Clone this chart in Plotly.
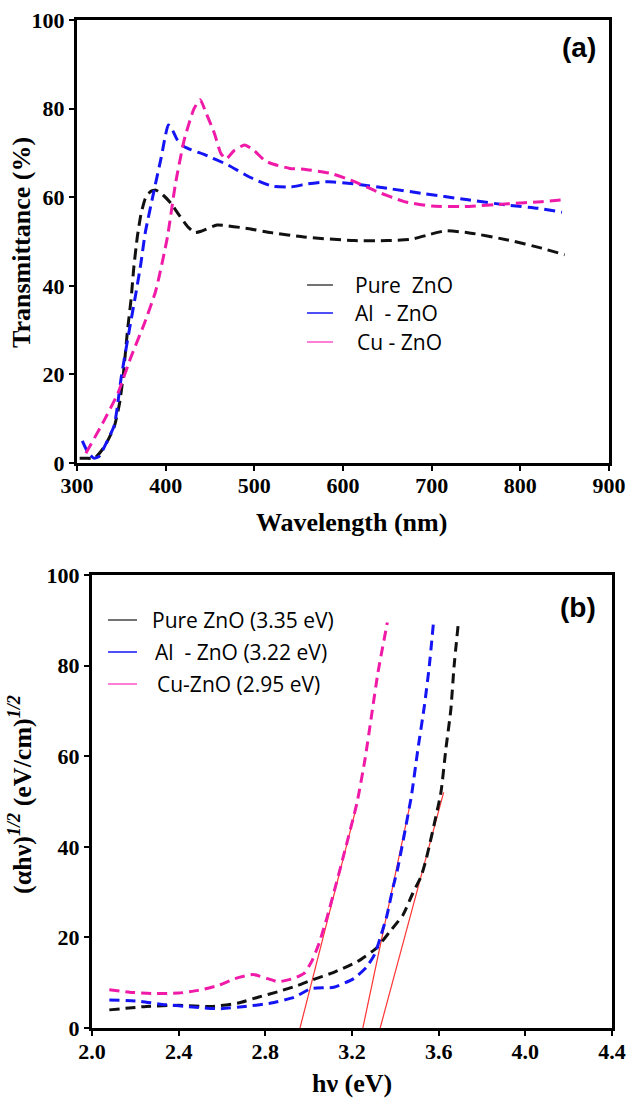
import plotly.graph_objects as go

# ---------------- Panel (a): transmittance ----------------
wl_pure = [303, 310, 320, 331, 342, 348, 352, 357, 361, 364, 368, 372, 377, 383, 389, 397, 406, 415, 425, 433,
           440, 458, 490, 519, 556, 613, 650, 677, 696, 715, 741, 787, 824, 850]
T_pure = [1.1, 1.1, 1.1, 3.7, 8.2, 13.5, 19.5, 30, 37, 44, 51, 56, 59.7, 61.3, 61.6, 60.5, 58.6, 56, 53.3, 52,
          52.3, 53.7, 53, 52, 51, 50.2, 50.2, 50.5, 51.5, 52.4, 52, 50.3, 48.5, 47]

wl_al = [306, 312, 319, 325, 331, 342, 350, 359, 367, 372, 377, 387, 395, 403, 408, 413, 421, 445, 470, 495,
         520, 541, 560, 583, 613, 650, 688, 741, 786, 820, 847]
T_al = [5, 2.5, 1.1, 1.5, 3.7, 8.5, 19.5, 30, 39, 45, 52, 61.6, 69, 76.3, 75, 73, 71.4, 69.5, 67.3, 64.5,
        62.5, 62.3, 63, 63.5, 63, 62, 60.9, 59.4, 58.2, 57.5, 56.6]

wl_cu = [310, 329, 346, 361, 376, 389, 402, 411, 421, 432, 439, 445, 455, 462, 468, 477, 489, 500, 511, 519,
         540, 556, 586, 613, 639, 669, 700, 737, 786, 824, 849]
T_cu = [2.2, 9, 15.7, 24, 31.5, 39, 51, 63, 73, 80, 82, 79.3, 74.4, 70, 68.6, 70.5, 71.8, 70.5, 68.4, 67.6,
        66.5, 66.3, 65.4, 63.5, 61.2, 59, 58, 57.9, 58.5, 59, 59.4]

# ---------------- Panel (b): Tauc plot ----------------
hv_pure = [2.08, 2.25, 2.40, 2.55, 2.675, 2.766, 2.858, 2.95, 3.01, 3.116, 3.223, 3.314, 3.375, 3.436, 3.481,
           3.519, 3.542, 3.61, 3.633, 3.656, 3.671, 3.691]
a_pure = [4.0, 4.75, 5.0, 4.75, 5.5, 6.8, 8.0, 9.4, 10.5, 12.3, 14.6, 17.7, 21.3, 25, 29.8,
          33.5, 37.2, 51.9, 61.5, 70.2, 79.8, 89.5]

hv_al = [2.08, 2.22, 2.325, 2.478, 2.584, 2.706, 2.827, 2.934, 3.01, 3.116, 3.208, 3.268, 3.306, 3.329, 3.36,
         3.39, 3.41, 3.474, 3.504, 3.534, 3.557, 3.576]
a_al = [6.2, 5.9, 5.2, 4.6, 4.25, 4.75, 5.5, 6.8, 8.7, 9.0, 10.9, 13.5, 16.4, 19.7, 24.6,
        31.2, 35, 51.2, 61.5, 71.1, 80, 89.5]

hv_cu = [2.08, 2.173, 2.28, 2.40, 2.49, 2.584, 2.66, 2.744, 2.81, 2.86, 2.934, 2.98, 3.017, 3.048, 3.086,
         3.124, 3.15, 3.223, 3.26, 3.29, 3.32, 3.363]
a_cu = [8.45, 7.9, 7.6, 7.7, 8.3, 9.4, 10.9, 11.8, 10.9, 10.2, 11, 12.1, 15, 18.7, 24.6,
        31.3, 36, 49.7, 59.3, 68.9, 78.5, 89.5]

# linear extrapolation lines (band-gap intercepts)
fit_pure_x = [3.33, 3.623]
fit_pure_y = [0, 52]
fit_al_x = [3.25, 3.47]
fit_al_y = [0, 49.8]
fit_cu_x = [2.96, 3.223]
fit_cu_y = [0, 49.3]

legend_a = ["Pure  ZnO", "Al  - ZnO", "Cu - ZnO"]
legend_b = ["Pure ZnO (3.35 eV)", "Al  - ZnO (3.22 eV)", "Cu-ZnO (2.95 eV)"]

ticks_a_x = [300, 400, 500, 600, 700, 800, 900]
ticks_a_y = [0, 20, 40, 60, 80, 100]
ticks_b_x = [2.0, 2.4, 2.8, 3.2, 3.6, 4.0, 4.4]
ticks_b_y = [0, 20, 40, 60, 80, 100]

BLACK = "#111111"
BLUE = "#1414f5"
PINK = "#f01aa8"
RED = "#ff3333"
W, H = 630, 1104

fig = go.Figure()
for x, y, c in [(wl_pure, T_pure, BLACK), (wl_al, T_al, BLUE), (wl_cu, T_cu, PINK)]:
    fig.add_trace(go.Scatter(x=x, y=y, mode="lines", xaxis="x", yaxis="y",
                             line=dict(color=c, width=3, dash="11px,6px", shape="spline", smoothing=0.5),
                             showlegend=False, hoverinfo="skip"))
for x, y, c in [(fit_pure_x, fit_pure_y, RED), (fit_al_x, fit_al_y, RED), (fit_cu_x, fit_cu_y, RED)]:
    fig.add_trace(go.Scatter(x=x, y=y, mode="lines", xaxis="x2", yaxis="y2",
                             line=dict(color=c, width=1.2), showlegend=False, hoverinfo="skip"))
for x, y, c in [(hv_pure, a_pure, BLACK), (hv_al, a_al, BLUE), (hv_cu, a_cu, PINK)]:
    fig.add_trace(go.Scatter(x=x, y=y, mode="lines", xaxis="x2", yaxis="y2",
                             line=dict(color=c, width=3, dash="10px,6px", shape="spline", smoothing=0.5),
                             showlegend=False, hoverinfo="skip"))

tickfont = dict(family="Liberation Serif", size=22, color="black", weight="bold")
axis_common = dict(showline=True, linewidth=3, linecolor="black", mirror=True, showgrid=False,
                   zeroline=False, ticks="outside", ticklen=5, tickwidth=1.5, tickcolor="black",
                   tickfont=tickfont, automargin=False, ticklabeloverflow="allow")

fig.update_layout(
    template="none",
    width=W, height=H, margin=dict(l=0, r=0, t=0, b=0, pad=0, autoexpand=False),
    paper_bgcolor="white", plot_bgcolor="white", showlegend=False,
    xaxis=dict(domain=[77 / W, 609 / W], range=[300, 900], tickvals=ticks_a_x, anchor="y",
               ticklabelstandoff=-4, **axis_common),
    yaxis=dict(domain=[1 - 463 / H, 1 - 20 / H], range=[0, 100], tickvals=ticks_a_y, anchor="x", **axis_common),
    xaxis2=dict(domain=[92 / W, 612 / W], range=[2.0, 4.4], tickvals=ticks_b_x, tickformat=".1f",
                anchor="y2", ticklabelstandoff=-3, **axis_common),
    yaxis2=dict(domain=[1 - 1028 / H, 1 - 575 / H], range=[0, 100], tickvals=ticks_b_y, anchor="x2", **axis_common),
)

title_font = dict(family="Liberation Serif", size=26, color="black", weight="bold")
ann = [
    dict(text="Transmittance (%)", x=21 / W, y=1 - 243 / H, textangle=-90, font=title_font),
    dict(text="Wavelength (nm)", x=351 / W, y=1 - 523 / H, font=title_font),
    dict(text="(αhν)<sup><i>1/2</i></sup> (eV/cm)<sup><i>1/2</i></sup>", x=20 / W, y=1 - 795 / H,
         textangle=-90, font=title_font),
    dict(text="hν (eV)", x=352 / W, y=1 - 1083 / H, font=title_font),
    dict(text="(a)", x=579 / W, y=1 - 47 / H, font=dict(family="Liberation Sans", size=28, color="black", weight="bold")),
    dict(text="(b)", x=578 / W, y=1 - 607 / H, font=dict(family="Liberation Sans", size=28, color="black", weight="bold")),
]
legfont = dict(family="Open Sans", size=21, color="black")
shapes = []
leg_colors = ["#444444", BLUE, "#ff55c8"]
for i, (lab, c) in enumerate(zip(legend_a, leg_colors)):
    yy = [285, 313, 342][i]
    xs = [353, 353, 355][i]
    ann.append(dict(text=lab, x=xs / W, y=1 - yy / H, xanchor="left", font=legfont))
    shapes.append(dict(type="line", xref="paper", yref="paper", x0=307 / W, x1=333 / W,
                       y0=1 - yy / H, y1=1 - yy / H, line=dict(color=c, width=1.5)))
for i, (lab, c) in enumerate(zip(legend_b, leg_colors)):
    yy = [620, 652, 684][i]
    xs = [150, 153, 155][i]
    ann.append(dict(text=lab, x=xs / W, y=1 - yy / H, xanchor="left", font=legfont))
    shapes.append(dict(type="line", xref="paper", yref="paper", x0=108 / W, x1=137 / W,
                       y0=1 - yy / H, y1=1 - yy / H, line=dict(color=c, width=1.5)))

for a in ann:
    a.setdefault("xref", "paper")
    a.setdefault("yref", "paper")
    a.setdefault("showarrow", False)
    a.setdefault("xanchor", "center")
    a.setdefault("yanchor", "middle")
fig.update_layout(annotations=ann, shapes=shapes)

fig.write_html("out.html")
